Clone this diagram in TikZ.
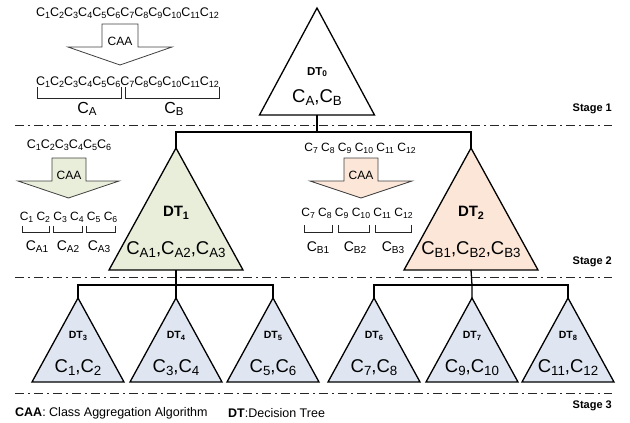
\documentclass[tikz,border=0pt]{standalone}
\usepackage{fontspec}
\setmainfont{Liberation Sans}
\definecolor{gfill}{HTML}{E8EEDA}
\definecolor{pfill}{HTML}{FCE6D8}
\definecolor{bfill}{HTML}{DFE6F2}
\newcommand\mysb[1]{\raisebox{-0.3ex}{\scalebox{0.72}{#1}}}
\newcommand\myC[1]{C\mysb{#1}}
\newcommand\mytri[6]{%
  \draw[tribox, fill=#6] (#2,#3) -- ++(#4,#5) -- ++(-2*#4,0) -- cycle;
  \coordinate (#1a) at (#2,#3);
  \coordinate (#1b) at (#2,#3+#5);}
\begin{document}
\begin{tikzpicture}[x=1pt,y=-1pt,
  tribox/.style={draw=black, line width=1.3pt, line join=miter},
  conn/.style={draw=black, line width=1.3pt},
  stageline/.style={draw=black!85, line width=0.9pt, dash pattern=on 9pt off 4pt on 2pt off 4pt},
  caabox/.style={draw=black!75, line width=0.8pt, line join=miter},
  brk/.style={draw=black!85, line width=0.9pt},
  seq/.style={inner sep=0pt, font=\fontsize{12}{14}\selectfont},
  seqw/.style={inner sep=0pt, font=\fontsize{12.5}{14}\selectfont},
  lab/.style={inner sep=0pt, font=\fontsize{14}{16}\selectfont},
  big/.style={inner sep=0pt, font=\fontsize{18.5}{20}\selectfont},
  dtbig/.style={inner sep=0pt, font=\bfseries\fontsize{15}{16}\selectfont},
  dtmid/.style={inner sep=0pt, font=\bfseries\fontsize{11.5}{13}\selectfont},
  dtsmall/.style={inner sep=0pt, font=\bfseries\fontsize{10.5}{12}\selectfont},
  stage/.style={inner sep=0pt, anchor=east, font=\bfseries\fontsize{11}{12}\selectfont},
  legend/.style={inner sep=0pt, anchor=west, font=\fontsize{12.5}{14}\selectfont}]
\useasboundingbox (0,0) rectangle (630,423);

% stage lines
\draw[stageline] (15,125) -- (612,125);
\draw[stageline] (15,277) -- (612,277);
\draw[stageline] (15,393) -- (612,393);
\node[stage] (st1) at (612,109) {Stage 1};
\node[stage] (st2) at (612,262) {Stage 2};
\node[stage] (st3) at (612,406) {Stage 3};

% triangles
\mytri{t0}{317}{8}{57.5}{107}{white}
\mytri{t1}{176}{148}{67}{122}{gfill}
\mytri{t2}{471}{148}{67}{122}{pfill}
\mytri{t3}{78}{298}{46}{84}{bfill}
\mytri{t4}{176}{298}{46}{84}{bfill}
\mytri{t5}{273}{298}{46}{84}{bfill}
\mytri{t6}{374}{298}{46}{84}{bfill}
\mytri{t7}{472}{298}{46}{84}{bfill}
\mytri{t8}{568}{298}{46}{84}{bfill}

% triangle labels
\node[dtmid] (d0) at (317,72) {DT\mysb{0}};
\node[big] (c0) at (317,98) {\myC{A},\myC{B}};
\node[dtbig] (d1) at (176,213) {DT\mysb{1}};
\node[big] (c1) at (176,250) {\myC{A1},\myC{A2},\myC{A3}};
\node[dtbig] (d2) at (471,213) {DT\mysb{2}};
\node[big] (c2) at (471,250) {\myC{B1},\myC{B2},\myC{B3}};
\node[dtsmall] (d3) at (78,336) {DT\mysb{3}};
\node[big] (c3) at (78,368) {\myC{1},\myC{2}};
\node[dtsmall] (d4) at (176,336) {DT\mysb{4}};
\node[big] (c4) at (176,368) {\myC{3},\myC{4}};
\node[dtsmall] (d5) at (273,336) {DT\mysb{5}};
\node[big] (c5) at (273,368) {\myC{5},\myC{6}};
\node[dtsmall] (d6) at (374,336) {DT\mysb{6}};
\node[big] (c6) at (374,368) {\myC{7},\myC{8}};
\node[dtsmall] (d7) at (472,336) {DT\mysb{7}};
\node[big] (c7) at (472,368) {\myC{9},\myC{10}};
\node[dtsmall] (d8) at (568,336) {DT\mysb{8}};
\node[big] (c8) at (568,368) {\myC{11},\myC{12}};

% connectors
\coordinate (j0) at (317,132);
\coordinate (j1) at (176,285);
\coordinate (j2) at (472,285);
\draw[conn] (t0b) -- (j0);
\draw[conn] (t1a) |- (j0) -| (t2a);
\draw[conn] (t1b) -- (t4a);
\draw[conn] (t3a) |- (j1) -| (t5a);
\draw[conn] (t2b) -- (j2) -- (t7a);
\draw[conn] (t6a) |- (j2) -| (t8a);

% top-left CAA
\node[seqw] (s0) at (127.5,13) {\myC{1}\myC{2}\myC{3}\myC{4}\myC{5}\myC{6}\myC{7}\myC{8}\myC{9}\myC{10}\myC{11}\myC{12}};
\draw[caabox, fill=white] (102,24) -- (138,24) -- (138,47) -- (172,47) -- (120,65) -- (68,47) -- (102,47) -- cycle;
\node[seq] (caa0) at (120,41) {CAA};
\node[seqw] (s1) at (127.5,82) {\myC{1}\myC{2}\myC{3}\myC{4}\myC{5}\myC{6}\myC{7}\myC{8}\myC{9}\myC{10}\myC{11}\myC{12}};
\draw[brk] (37,87) -- (37,98) -- (121,98) -- (121,87);
\draw[brk] (125,87) -- (125,98) -- (219,98) -- (219,87);
\node[lab, font=\fontsize{16}{18}\selectfont] (ca) at (87,109) {\myC{A}};
\node[lab, font=\fontsize{16}{18}\selectfont] (cb) at (174,109) {\myC{B}};

% stage-2 left CAA
\node[seqw] (s2) at (69,145) {\myC{1}\myC{2}\myC{3}\myC{4}\myC{5}\myC{6}};
\draw[caabox, fill=gfill] (52,158) -- (86,158) -- (86,181) -- (119,181) -- (68.5,198) -- (18,181) -- (52,181) -- cycle;
\node[seq] (caa1) at (69,175) {CAA};
\node[seq] (s3) at (68.5,217) {\myC{1} \myC{2} \myC{3} \myC{4} \myC{5} \myC{6}};
\draw[brk] (22,226) -- (22,232) -- (49,232) -- (49,226);
\draw[brk] (53,226) -- (53,232) -- (82,232) -- (82,226);
\draw[brk] (86,226) -- (86,232) -- (115,232) -- (115,226);
\node[lab] (ca1) at (37,247) {\myC{A1}};
\node[lab] (ca2) at (68,247) {\myC{A2}};
\node[lab] (ca3) at (99,247) {\myC{A3}};

% stage-2 right CAA
\node[seq] (s4) at (360,148) {\myC{7} \myC{8} \myC{9} \myC{10} \myC{11} \myC{12}};
\draw[caabox, fill=pfill] (344,158) -- (378,158) -- (378,181) -- (412,181) -- (361,198) -- (310,181) -- (344,181) -- cycle;
\node[seq] (caa2) at (361,175) {CAA};
\node[seq] (s5) at (357,213) {\myC{7} \myC{8} \myC{9} \myC{10} \myC{11} \myC{12}};
\draw[brk] (304,225) -- (304,232) -- (332,232) -- (332,225);
\draw[brk] (338,225) -- (338,232) -- (369,232) -- (369,225);
\draw[brk] (375,225) -- (375,232) -- (411,232) -- (411,225);
\node[lab] (cb1) at (318,248) {\myC{B1}};
\node[lab] (cb2) at (355,248) {\myC{B2}};
\node[lab] (cb3) at (393,248) {\myC{B3}};

% legend
\node[legend] (leg1) at (15,413) {\textbf{CAA}: Class Aggregation Algorithm};
\node[legend] (leg2) at (228,413) {\textbf{DT}:Decision Tree};
\end{tikzpicture}
\end{document}
